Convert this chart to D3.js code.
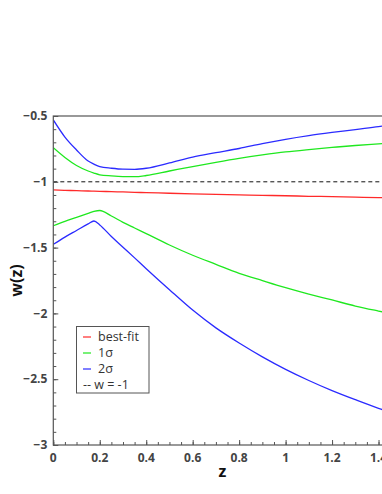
<!DOCTYPE html>
<html><head><meta charset="utf-8">
<script src="https://cdn.jsdelivr.net/npm/d3@7"></script>
<style>
html,body{margin:0;padding:0;background:#fff;}
svg{display:block;}
</style></head>
<body>
<script>
// ---- data ----
const zValues   = [0, 0.05, 0.1, 0.15, 0.175, 0.2, 0.25, 0.3, 0.35, 0.4, 0.5, 0.6, 0.7, 0.8, 0.9, 1.0, 1.1, 1.2, 1.3, 1.4, 1.45];
const bestFit   = [-1.062, -1.065, -1.067, -1.07, -1.071, -1.072, -1.075, -1.077, -1.08, -1.082, -1.087, -1.091, -1.095, -1.099, -1.103, -1.106, -1.11, -1.113, -1.117, -1.12, -1.122];
const sigma1Up  = [-0.741, -0.815, -0.876, -0.918, -0.934, -0.947, -0.955, -0.96, -0.961, -0.952, -0.918, -0.884, -0.852, -0.822, -0.796, -0.773, -0.755, -0.739, -0.724, -0.712, -0.706];
const sigma1Lo  = [-1.334, -1.30, -1.27, -1.24, -1.225, -1.218, -1.26, -1.308, -1.351, -1.394, -1.48, -1.558, -1.627, -1.695, -1.751, -1.805, -1.853, -1.898, -1.944, -1.982, -2.0];
const sigma2Up  = [-0.53, -0.66, -0.758, -0.842, -0.866, -0.885, -0.897, -0.904, -0.905, -0.897, -0.857, -0.812, -0.779, -0.747, -0.71, -0.677, -0.649, -0.625, -0.603, -0.58, -0.57];
const sigma2Lo  = [-1.475, -1.42, -1.37, -1.32, -1.298, -1.328, -1.416, -1.497, -1.578, -1.66, -1.82, -1.975, -2.11, -2.225, -2.33, -2.425, -2.51, -2.587, -2.656, -2.721, -2.75];
const xTicks    = [0, 0.2, 0.4, 0.6, 0.8, 1, 1.2, 1.4];
const yTicks    = [-3, -2.5, -2, -1.5, -1, -0.5];
const legendLabels = ["best-fit", "1σ", "2σ", "-- w = -1"];

(function () {
// ---- layout ----
const W = 382, H = 494;
const pL = 53.3, pT = 116, pB = 445;
const x = d3.scaleLinear().domain([0, 1.5]).range([pL, pL + 1.5 * 232.3]);
const y = d3.scaleLinear().domain([-3, -0.5]).range([pB, pT]);
const pR = x(1.5);
const FONT = "Open Sans, DejaVu Sans, sans-serif";

const RED = "#ff2a2a", GREEN = "#1fe81f", BLUE = "#2b2bff";
const svg = d3.select("body").append("svg").attr("width", W).attr("height", H);

svg.append("clipPath").attr("id", "clip").append("rect")
  .attr("x", pL).attr("y", pT).attr("width", pR - pL).attr("height", pB - pT);

const g = svg.append("g").attr("clip-path", "url(#clip)");

// dashed w=-1
g.append("line").attr("x1", pL).attr("x2", pR).attr("y1", y(-1)).attr("y2", y(-1))
  .attr("stroke", "#111").attr("stroke-width", 1).attr("stroke-dasharray", "4,3");

const line = d3.line().x((d, i) => x(zValues[i])).y(d => y(d)).curve(d3.curveMonotoneX);
const series = [[bestFit, RED], [sigma1Up, GREEN], [sigma1Lo, GREEN], [sigma2Up, BLUE], [sigma2Lo, BLUE]];
series.forEach(([vals, c]) => {
  g.append("path").attr("d", line(vals)).attr("fill", "none").attr("stroke", c).attr("stroke-width", 1.3);
});

// frame
svg.append("rect").attr("x", pL).attr("y", pT).attr("width", pR - pL).attr("height", pB - pT)
  .attr("fill", "none").attr("stroke", "#555").attr("stroke-width", 1.2);

// y axis ticks (inside)
const yAx = d3.axisRight(y).tickValues(d3.range(-3, -0.49, 0.1)).tickSize(3).tickFormat("");
svg.append("g").attr("transform", `translate(${pL},0)`).call(yAx)
  .call(s => s.select(".domain").remove())
  .call(s => s.selectAll("line").attr("stroke", "#555"));
const yMaj = d3.axisRight(y).tickValues(yTicks).tickSize(5).tickFormat("");
svg.append("g").attr("transform", `translate(${pL},0)`).call(yMaj)
  .call(s => s.select(".domain").remove())
  .call(s => s.selectAll("line").attr("stroke", "#555"));
svg.append("g").selectAll("text").data(yTicks).join("text")
  .attr("x", pL - 6).attr("y", d => y(d)).attr("dy", "0.35em")
  .attr("text-anchor", "end").attr("font-family", FONT)
  .attr("font-size", 12).attr("font-weight", "bold").attr("fill", "#444")
  .text(d => d3.format("")(d));

// x axis ticks (inside)
const xAx = d3.axisTop(x).tickValues(d3.range(0, 1.46, 0.05)).tickSize(3).tickFormat("");
svg.append("g").attr("transform", `translate(0,${pB})`).call(xAx)
  .call(s => s.select(".domain").remove())
  .call(s => s.selectAll("line").attr("stroke", "#555"));
const xMaj = d3.axisTop(x).tickValues(xTicks).tickSize(5).tickFormat("");
svg.append("g").attr("transform", `translate(0,${pB})`).call(xMaj)
  .call(s => s.select(".domain").remove())
  .call(s => s.selectAll("line").attr("stroke", "#555"));
svg.append("g").selectAll("text").data(xTicks).join("text")
  .attr("x", d => x(d)).attr("y", 461.5)
  .attr("text-anchor", "middle").attr("font-family", FONT)
  .attr("font-size", 12).attr("font-weight", "bold").attr("fill", "#444")
  .text(d => d3.format("")(d));

// axis titles
svg.append("text").attr("x", x(0.728)).attr("y", 477).attr("text-anchor", "middle")
  .attr("font-family", FONT).attr("font-size", 16).attr("font-weight", "bold")
  .attr("fill", "#111").text("z");
svg.append("text").attr("transform", `translate(22,${(pT + pB) / 2}) rotate(-90)`)
  .attr("text-anchor", "middle").attr("font-family", FONT)
  .attr("font-size", 16).attr("font-weight", "bold").attr("fill", "#111").text("w(z)");

// legend
const lg = svg.append("g");
lg.append("rect").attr("x", 76.5).attr("y", 326.5).attr("width", 72.5).attr("height", 66.5)
  .attr("fill", "#fff").attr("stroke", "#555").attr("stroke-width", 1);
const legColors = [RED, GREEN, BLUE, null];
legendLabels.forEach((t, i) => {
  const cy = 337 + i * 16;
  if (legColors[i]) {
    lg.append("line").attr("x1", 83).attr("x2", 91).attr("y1", cy).attr("y2", cy)
      .attr("stroke", legColors[i]).attr("stroke-width", 1.2);
    lg.append("text").attr("x", 98).attr("y", cy).attr("dy", "0.35em")
      .attr("font-family", FONT).attr("font-size", 12.5).attr("fill", "#333").text(t);
  } else {
    lg.append("text").attr("x", 83).attr("y", cy).attr("dy", "0.35em")
      .attr("font-family", FONT).attr("font-size", 12.5).attr("fill", "#333").text(t);
  }
});
})();
</script>
</body></html>
